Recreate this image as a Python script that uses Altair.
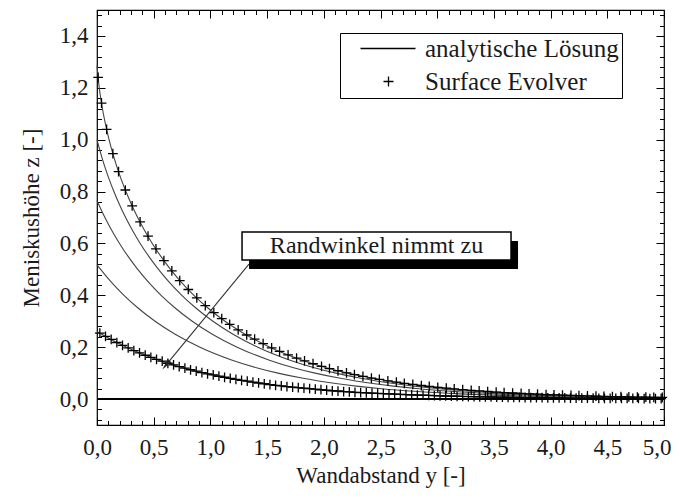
import altair as alt
import pandas as pd

FONT = "Liberation Serif"
TXT = "#1a1a1a"

# ---------------- analytic solutions ----------------
a_x = [0, 0.0073, 0.0201, 0.0364, 0.0562, 0.0795, 0.1064, 0.1372, 0.1721, 0.2114, 0.2553, 0.3043,
       0.3588, 0.4197, 0.4874, 0.5633, 0.6484, 0.7447, 0.8544, 0.9808, 1.1287, 1.3059, 1.5247,
       1.8092, 2.0308, 2.2123, 2.4347, 2.7219, 2.904, 3.127, 3.4145, 3.8199, 4.1075, 4.513, 4.8697, 5.0]
a_z = [1.286, 1.25, 1.2, 1.15, 1.1, 1.05, 1.0, 0.95, 0.9, 0.85, 0.8, 0.75,
       0.7, 0.65, 0.6, 0.55, 0.5, 0.45, 0.4, 0.35, 0.3, 0.25, 0.2,
       0.15, 0.12, 0.1, 0.08, 0.06, 0.05, 0.04, 0.03, 0.02, 0.015, 0.01, 0.007, 0.0061]

b_x = [0, 0.0308, 0.0657, 0.105, 0.1489, 0.1979, 0.2524, 0.3133, 0.381, 0.4569, 0.542, 0.6383,
       0.748, 0.8744, 1.0223, 1.1995, 1.4183, 1.7028, 1.9244, 2.1059, 2.3283, 2.6155, 2.7976,
       3.0206, 3.3081, 3.7135, 4.0011, 4.4066, 4.7633, 5.0]
b_z = [1.0, 0.95, 0.9, 0.85, 0.8, 0.75, 0.7, 0.65, 0.6, 0.55, 0.5, 0.45,
       0.4, 0.35, 0.3, 0.25, 0.2, 0.15, 0.12, 0.1, 0.08, 0.06, 0.05,
       0.04, 0.03, 0.02, 0.015, 0.01, 0.007, 0.0055]

c_x = [0, 0.0153, 0.0698, 0.1307, 0.1984, 0.2743, 0.3594, 0.4557, 0.5654, 0.6918, 0.8397, 1.0169,
       1.2357, 1.5202, 1.7418, 1.9233, 2.1457, 2.4329, 2.615, 2.838, 3.1255, 3.5309, 3.8185,
       4.224, 4.5807, 5.0]
c_z = [0.765, 0.75, 0.7, 0.65, 0.6, 0.55, 0.5, 0.45, 0.4, 0.35, 0.3, 0.25,
       0.2, 0.15, 0.12, 0.1, 0.08, 0.06, 0.05, 0.04, 0.03, 0.02, 0.015,
       0.01, 0.007, 0.0046]

d_x = [0, 0.0318, 0.1281, 0.2378, 0.3642, 0.5121, 0.6893, 0.9081, 1.1926, 1.4142, 1.5957, 1.8181,
       2.1053, 2.2874, 2.5104, 2.7979, 3.2033, 3.4909, 3.8964, 4.2531, 4.5895, 5.0]
d_z = [0.518, 0.5, 0.45, 0.4, 0.35, 0.3, 0.25, 0.2, 0.15, 0.12, 0.1, 0.08,
       0.06, 0.05, 0.04, 0.03, 0.02, 0.015, 0.01, 0.007, 0.005, 0.0033]

e_x = [0, 0.0421, 0.1452, 0.2609, 0.3927, 0.5454, 0.767, 0.9485, 1.1709, 1.4581, 1.6402, 1.8632,
       2.1507, 2.5561, 2.8437, 3.2492, 3.6059, 3.9423, 4.4532, 5.0]
e_z = [0.261, 0.25, 0.225, 0.2, 0.175, 0.15, 0.12, 0.1, 0.08, 0.06, 0.05, 0.04,
       0.03, 0.02, 0.015, 0.01, 0.007, 0.005, 0.003, 0.0017]

zero_x = [0.0, 5.0]
zero_z = [0.0, 0.0]

# ---------------- Surface Evolver points ----------------
se_top_x = [0.01, 0.04, 0.085, 0.14, 0.19, 0.25, 0.31, 0.38, 0.45, 0.52,
            0.59, 0.66, 0.73, 0.805, 0.88, 0.955, 1.03, 1.10, 1.17, 1.245,
            1.32, 1.39, 1.465, 1.54, 1.61, 1.685, 1.76, 1.83, 1.905, 1.98,
            2.05, 2.125, 2.20, 2.27, 2.345, 2.42, 2.49, 2.565, 2.64, 2.71,
            2.785, 2.86, 2.93, 3.005, 3.08, 3.15, 3.225, 3.30, 3.37, 3.445,
            3.52, 3.59, 3.665, 3.74, 3.81, 3.885, 3.96, 4.03, 4.105, 4.18,
            4.25, 4.325, 4.40, 4.47, 4.545, 4.62, 4.69, 4.765, 4.84, 4.91,
            4.985]
se_top_z = [1.24, 1.141, 1.040, 0.946, 0.877, 0.806, 0.745, 0.683, 0.628, 0.579,
            0.534, 0.494, 0.457, 0.4225, 0.390, 0.360, 0.333, 0.310, 0.288, 0.267,
            0.247, 0.231, 0.214, 0.197, 0.1835, 0.170, 0.1576, 0.1469, 0.1362, 0.1263,
            0.1177, 0.1091, 0.1013, 0.0944, 0.0875, 0.0811, 0.0756, 0.0701, 0.0651, 0.0607,
            0.0563, 0.0522, 0.0487, 0.0452, 0.0419, 0.0391, 0.0362, 0.0336, 0.0314, 0.0291,
            0.0270, 0.0252, 0.0233, 0.0217, 0.0202, 0.0187, 0.0174, 0.0162, 0.0150, 0.0140,
            0.0130, 0.0121, 0.0112, 0.0104, 0.0097, 0.0090, 0.0084, 0.0078, 0.0072, 0.0067,
            0.0062]

se_low_x = [0.025, 0.075, 0.125, 0.175, 0.225, 0.275, 0.325, 0.375, 0.425, 0.475,
            0.525, 0.575, 0.625, 0.675, 0.725, 0.775, 0.825, 0.875, 0.925, 0.975,
            1.025, 1.075, 1.125, 1.175, 1.225, 1.275, 1.325, 1.375, 1.425, 1.475,
            1.525, 1.575, 1.625, 1.675, 1.725, 1.775, 1.825, 1.875, 1.925, 1.975,
            2.025, 2.075, 2.125, 2.175, 2.225, 2.275, 2.325, 2.375, 2.425, 2.475,
            2.525, 2.575, 2.625, 2.675, 2.725, 2.775, 2.825, 2.875, 2.925, 2.975,
            3.025, 3.075, 3.125, 3.175, 3.225, 3.275, 3.325, 3.375, 3.425, 3.475,
            3.525, 3.575, 3.625, 3.675, 3.725, 3.775, 3.825, 3.875, 3.925, 3.975,
            4.025, 4.075, 4.125, 4.175, 4.225, 4.275, 4.325, 4.375, 4.425, 4.475,
            4.525, 4.575, 4.625, 4.675, 4.725, 4.775, 4.825, 4.875, 4.925, 4.975]
se_low_z = [0.254, 0.242, 0.230, 0.218, 0.207, 0.197, 0.187, 0.178, 0.169, 0.161,
            0.153, 0.146, 0.138, 0.132, 0.125, 0.119, 0.113, 0.108, 0.102, 0.097,
            0.093, 0.088, 0.084, 0.080, 0.076, 0.072, 0.069, 0.065, 0.062, 0.059,
            0.056, 0.053, 0.051, 0.048, 0.046, 0.044, 0.042, 0.040, 0.038, 0.036,
            0.034, 0.032, 0.031, 0.029, 0.028, 0.026, 0.025, 0.024, 0.023, 0.022,
            0.021, 0.020, 0.019, 0.018, 0.017, 0.016, 0.015, 0.015, 0.014, 0.013,
            0.0125, 0.0119, 0.0113, 0.0108, 0.0102, 0.0097, 0.0093, 0.0088, 0.0084, 0.0080,
            0.0076, 0.0072, 0.0069, 0.0065, 0.0062, 0.0059, 0.0056, 0.0053, 0.0051, 0.0048,
            0.0046, 0.0044, 0.0042, 0.0040, 0.0038, 0.0036, 0.0034, 0.0032, 0.0031, 0.0029,
            0.0028, 0.0027, 0.0025, 0.0024, 0.0023, 0.0022, 0.0021, 0.0020, 0.0019, 0.0018]

legend_labels = ["analytische Lösung", "Surface Evolver"]

# ---------------- axes ----------------
x_major = [0.0, 0.5, 1.0, 1.5, 2.0, 2.5, 3.0, 3.5, 4.0, 4.5, 5.0]
x_minor = [0.1, 0.2, 0.3, 0.4, 0.6, 0.7, 0.8, 0.9, 1.1, 1.2, 1.3, 1.4, 1.6, 1.7, 1.8, 1.9,
           2.1, 2.2, 2.3, 2.4, 2.6, 2.7, 2.8, 2.9, 3.1, 3.2, 3.3, 3.4, 3.6, 3.7, 3.8, 3.9,
           4.1, 4.2, 4.3, 4.4, 4.6, 4.7, 4.8, 4.9]
y_major = [0.0, 0.2, 0.4, 0.6, 0.8, 1.0, 1.2, 1.4]
y_minor = [-0.08, -0.04, 0.04, 0.08, 0.12, 0.16, 0.24, 0.28, 0.32, 0.36, 0.44, 0.48,
           0.52, 0.56, 0.64, 0.68, 0.72, 0.76, 0.84, 0.88, 0.92, 0.96, 1.04, 1.08,
           1.12, 1.16, 1.24, 1.28, 1.32, 1.36, 1.44, 1.48]

# ---------------- annotation ----------------
note_text = "Randwinkel nimmt zu"
note_box_x = [1.279, 3.651]
note_box_z = [0.536, 0.644]
note_text_pos = [2.465, 0.590]
arrow_start = [1.34, 0.52]
arrow_end = [0.608, 0.131]
arrow_angle = 220

# ---------------- data frames ----------------
rows = []
for name, xs_, zs_ in [("a", a_x, a_z), ("b", b_x, b_z), ("c", c_x, c_z),
                       ("d", d_x, d_z), ("e", e_x, e_z)]:
    for xv, zv in zip(xs_, zs_):
        rows.append({"curve": name, "wy": xv, "mz": zv})
df_lines = pd.DataFrame(rows)
df_zero = pd.DataFrame({"wy": zero_x, "mz": zero_z})

se_rows = []
for name, xs_, zs_ in [("top", se_top_x, se_top_z), ("low", se_low_x, se_low_z)]:
    for xv, zv in zip(xs_, zs_):
        se_rows.append({"run": name, "wy": xv, "mz": zv})
df_se = pd.DataFrame(se_rows)

df_leg = pd.DataFrame({"series": legend_labels, "wy": [0.0, 0.0], "mz": [0.0, 0.0]})

df_box = pd.DataFrame({"x1": [note_box_x[0]], "x2": [note_box_x[1]],
                       "z1": [note_box_z[0]], "z2": [note_box_z[1]]})
df_text = pd.DataFrame({"wy": [note_text_pos[0]], "mz": [note_text_pos[1]], "t": [note_text]})
df_arrow = pd.DataFrame({"x1": [arrow_start[0]], "z1": [arrow_start[1]],
                         "x2": [arrow_end[0]], "z2": [arrow_end[1]]})
df_head = pd.DataFrame({"wy": [arrow_end[0]], "mz": [arrow_end[1]]})

xs = alt.Scale(domain=[0, 5], nice=False, zero=False)
ys = alt.Scale(domain=[-0.1, 1.5], nice=False, zero=False)

LAB = "replace(format(datum.value, '.1f'), '.', ',')"
MAJ = 8
MIN = 4.5


def tick_axis(orient, values, size):
    return alt.Axis(orient=orient, values=values, ticks=True, tickSize=size, offset=-size,
                    tickColor="black", tickWidth=1, labels=False, domain=False, grid=False,
                    title=None)


def axis_layer(xaxis, yaxis):
    return alt.Chart(df_zero).mark_point(opacity=0).encode(
        x=alt.X("wy:Q", scale=xs, axis=xaxis),
        y=alt.Y("mz:Q", scale=ys, axis=yaxis),
    )


x_label_axis = alt.Axis(orient="bottom", values=x_major, ticks=False, domain=False, grid=False,
                        labelExpr=LAB, labelPadding=11, labelFont=FONT, labelFontSize=23,
                        labelFlush=False, labelOverlap=False,
                        labelAlign={"condition": {"test": "datum.value >= 4.99", "value": "right"},
                                    "value": "center"},
                        labelOffset={"condition": {"test": "datum.value >= 4.99", "value": 7},
                                     "value": 0},
                        labelColor=TXT, title="Wandabstand y [-]", titleFont=FONT,
                        titleFontSize=23, titleFontWeight="normal", titleColor=TXT,
                        titlePadding=5)
y_label_axis = alt.Axis(orient="left", values=y_major, ticks=False, domain=False, grid=False,
                        labelExpr=LAB, labelPadding=9, labelFont=FONT, labelFontSize=23,
                        labelFlush=False, labelOverlap=False,
                        labelColor=TXT, title="Meniskushöhe z [-]", titleFont=FONT,
                        titleFontSize=23, titleFontWeight="normal", titleColor=TXT,
                        titlePadding=16)

axes = [
    axis_layer(x_label_axis, y_label_axis),
    axis_layer(tick_axis("bottom", x_major, MAJ), tick_axis("left", y_major, MAJ)),
    axis_layer(tick_axis("bottom", x_minor, MIN), tick_axis("left", y_minor, MIN)),
    axis_layer(tick_axis("top", x_major, MAJ), tick_axis("right", y_major, MAJ)),
    axis_layer(tick_axis("top", x_minor, MIN), tick_axis("right", y_minor, MIN)),
]

X = alt.X("wy:Q", scale=xs, axis=None)
Y = alt.Y("mz:Q", scale=ys, axis=None)

lines = alt.Chart(df_lines).mark_line(color="#444444", strokeWidth=1.1,
                                      interpolate="monotone").encode(x=X, y=Y, detail="curve:N")
zero = alt.Chart(df_zero).mark_line(color="black", strokeWidth=2).encode(x=X, y=Y)

PLUS = "M-1,0H1M0,-1V1"
points = alt.Chart(df_se).mark_point(shape=PLUS, filled=False, color="black", strokeWidth=1.3,
                                     size=95, opacity=1).encode(x=X, y=Y, detail="run:N")

# legend (symbols drawn with paths so that the line sample is long but the row stays low)
LEG_LINE = "M1,0H12"
LEG_PLUS = "M5.6,0H7.6M6.6,-1V1"
leg = alt.Legend(title=None, orient="none", legendX=243, legendY=23, direction="vertical",
                 strokeColor="black", fillColor="white", padding=3, labelFont=FONT,
                 labelFontSize=25, labelColor=TXT, labelOffset=57, labelLimit=400,
                 rowPadding=7, symbolSize=100, symbolStrokeColor="black",
                 symbolStrokeWidth=1.3, symbolFillColor="transparent", symbolOpacity=1)
legend_layer = alt.Chart(df_leg).mark_point(opacity=0, filled=False).encode(
    x=X, y=Y,
    shape=alt.Shape("series:N", scale=alt.Scale(domain=legend_labels, range=[LEG_LINE, LEG_PLUS]),
                    legend=leg),
)

arrow = alt.Chart(df_arrow).mark_rule(color="#333333", strokeWidth=1.1).encode(
    x=alt.X("x1:Q", scale=xs, axis=None), y=alt.Y("z1:Q", scale=ys, axis=None),
    x2="x2:Q", y2="z2:Q")
head = alt.Chart(df_head).mark_point(shape="M0,-1L0.42,1L-0.42,1Z", filled=True,
                                     color="#222222", size=130, angle=arrow_angle,
                                     opacity=1).encode(x=X, y=Y)
shadow = alt.Chart(df_box).mark_rect(color="black", xOffset=7, x2Offset=7, yOffset=9,
                                     y2Offset=9).encode(
    x=alt.X("x1:Q", scale=xs, axis=None), x2="x2:Q",
    y=alt.Y("z1:Q", scale=ys, axis=None), y2="z2:Q")
box = alt.Chart(df_box).mark_rect(fill="white", stroke="black", strokeWidth=1.5).encode(
    x=alt.X("x1:Q", scale=xs, axis=None), x2="x2:Q",
    y=alt.Y("z1:Q", scale=ys, axis=None), y2="z2:Q")
text = alt.Chart(df_text).mark_text(font=FONT, fontSize=24, color=TXT, align="center",
                                    baseline="middle").encode(x=X, y=Y, text="t:N")

chart = alt.layer(*axes, lines, zero, points, legend_layer, arrow, head, shadow, box,
                  text).resolve_axis(
    x="independent", y="independent"
).properties(
    width=567, height=415,
    autosize=alt.AutoSizeParams(type="none"),
    padding={"left": 89, "top": 2, "right": 8, "bottom": 68},
    background="white",
).configure_view(stroke="black", strokeWidth=1.2)

chart.save("out.html", embed_options={"renderer": "svg", "actions": False})
